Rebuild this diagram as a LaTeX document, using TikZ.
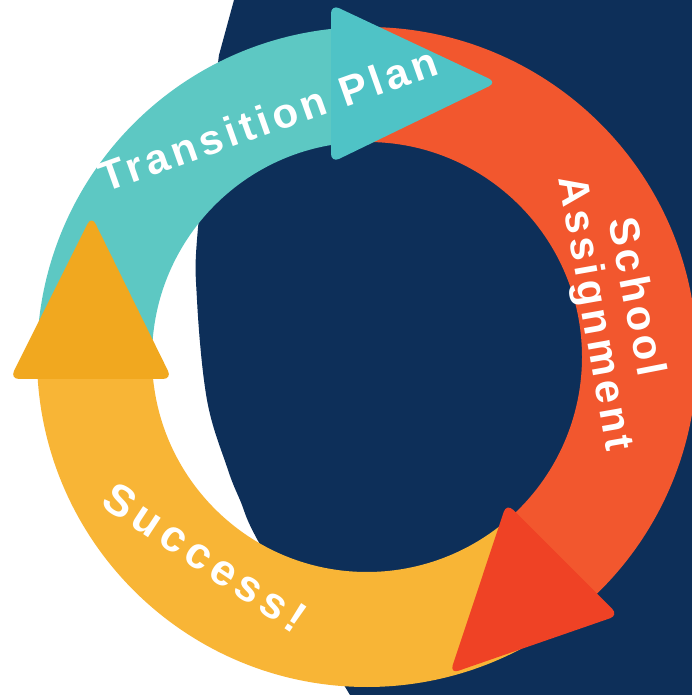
\documentclass[tikz,border=0pt]{standalone}
\usepackage{fontspec}
\setmainfont{Liberation Sans}
\newfontfamily\lblfont[LetterSpace=10]{Liberation Sans Bold}
\usetikzlibrary{calc}
\definecolor{navy}{HTML}{0D2F59}
\definecolor{tealarc}{HTML}{5DC8C3}
\definecolor{tealtri}{HTML}{4FC3C6}
\definecolor{orangearc}{HTML}{F2572E}
\definecolor{redtri}{HTML}{EF4225}
\definecolor{yellowarc}{HTML}{F8B536}
\definecolor{yellowtri}{HTML}{F1A81F}
\begin{document}
\begin{tikzpicture}[x=1pt,y=1pt,
  band/.style={line width=115pt},
  arrowtri/.style={rounded corners=9pt},
  lbl/.style={text=white, font=\lblfont\fontsize{42}{44}\selectfont, inner sep=0pt, anchor=base}]
\fill[white] (0,0) rectangle (692,695);
\useasboundingbox (0,0) rectangle (692,695);
\coordinate (c) at (367,338);
% navy background shape
\fill[navy] (234,695) -- plot[smooth, tension=0.6] coordinates {(219,640) (198,467) (197,395) (207,295) (227,228) (240,195) (262,147) (350,0)} -- (692,0) -- (692,695) -- cycle;
% ring segments
\draw[band, tealarc] ($(c)+(180:272.5)$) arc[start angle=180, end angle=95, radius=272.5];
\draw[band, orangearc] ($(c)+(93:272.5)$) arc[start angle=93, end angle=-48, radius=272.5];
\draw[band, yellowarc] ($(c)+(180:272.5)$) arc[start angle=180, end angle=308, radius=272.5];
% arrow heads
\fill[tealtri, arrowtri] (331,690.6) -- (497,612.6) -- (331,532.2) -- cycle;
\fill[yellowtri, arrowtri] (10,316) -- (91.6,479.2) -- (172,316) -- cycle;
\fill[redtri, arrowtri] (506.6,191.7) -- (618.6,79.7) -- (449.9,21.3) -- cycle;
% labels
\node[lbl, rotate=19.5] (transition) at (273,562) {Transition Plan};
\node[lbl, rotate=-79] (school) at (623.6,395.6) {School};
\node[lbl, rotate=-80] (assign) at (582.6,379.4) {Assignment};
\node[lbl, rotate=-33.5, font=\lblfont\fontsize{44}{46}\selectfont] (success) at (197,125) {\addfontfeature{LetterSpace=13}Success!};
\end{tikzpicture}
\end{document}
